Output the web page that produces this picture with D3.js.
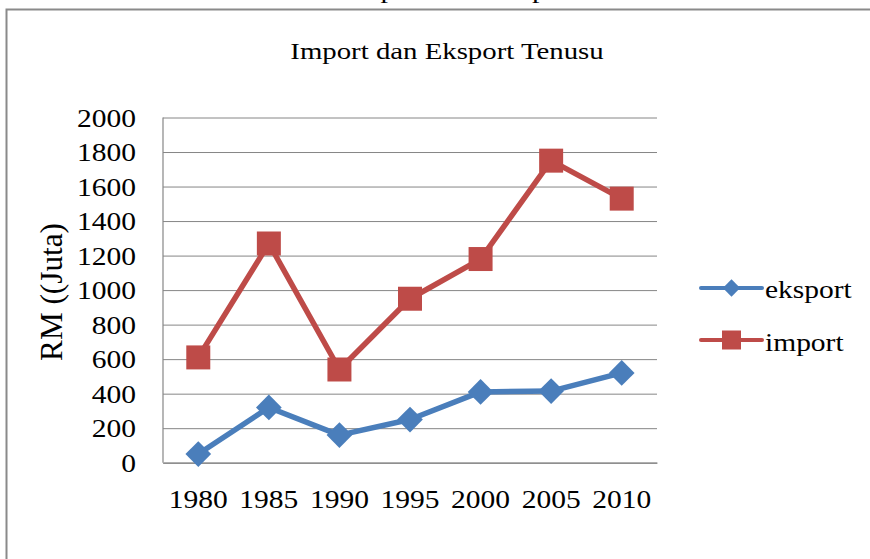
<!DOCTYPE html>
<html>
<head>
<meta charset="utf-8">
<script src="https://cdn.jsdelivr.net/npm/d3@7"></script>
<style>
  html, body { margin: 0; padding: 0; background: #fff; }
  svg { display: block; }
  text { font-family: "Liberation Serif", "Times New Roman", serif; fill: #000; }
</style>
</head>
<body>
<svg id="chart" width="870" height="559"></svg>
<script>
const years = ["1980", "1985", "1990", "1995", "2000", "2005", "2010"];
const eksport = [50, 320, 160, 250, 410, 415, 520];
const importVals = [610, 1270, 540, 950, 1180, 1750, 1530];
const yTicks = [0, 200, 400, 600, 800, 1000, 1200, 1400, 1600, 1800, 2000];
const seriesNames = ["eksport", "import"];
const chartTitle = "Import dan Eksport Tenusu";
const captionText = "Carta 2: Graf Nilai Import dan Eksport Tenusu";
const yLabel = "RM ((Juta)";

(function () {
const SX = 1.18;
const blue = "#4A7EBB", red = "#BE4B48", grid = "#868686";

const svg = d3.select("#chart");
const pLeft = 163, pRight = 657, pTop = 117.5, pBottom = 462.7;

const x = d3.scaleBand().domain(years).range([pLeft, pRight]);
const cx = d => x(d) + x.bandwidth() / 2;
const y = d3.scaleLinear().domain([0, 2000]).range([pBottom, pTop]);

// clipped caption above frame (only its lowest part is visible, as in the source)
svg.append("text")
  .attr("transform", `translate(114,-2) scale(1.25,1)`)
  .attr("font-size", 24)
  .attr("fill", "#222")
  .text(captionText);

// frame
svg.append("rect")
  .attr("x", 6.5).attr("y", 9.5)
  .attr("width", 900).attr("height", 600)
  .attr("fill", "none").attr("stroke", "#8a8a8a").attr("stroke-width", 2);

// title
svg.append("text")
  .attr("transform", `translate(447,59) scale(${SX + 0.02},1)`)
  .attr("text-anchor", "middle")
  .attr("font-size", 24)
  .text(chartTitle);

// y axis with gridlines
const yAxis = svg.append("g")
  .attr("transform", `translate(${pLeft},0)`)
  .call(d3.axisLeft(y).tickValues(yTicks).tickSize(-(pRight - pLeft)).tickFormat(d3.format("d")));
yAxis.select(".domain").remove();
yAxis.selectAll(".tick line").attr("stroke", grid).attr("stroke-width", 1);
yAxis.selectAll(".tick text")
  .attr("x", null).attr("dy", null)
  .attr("transform", `translate(-27,8.5) scale(${SX},1)`)
  .attr("text-anchor", "end")
  .attr("font-size", 25)
  .attr("font-family", "Liberation Serif")
  .attr("fill", "#000");

// left axis line
svg.append("line")
  .attr("x1", pLeft).attr("x2", pLeft).attr("y1", pTop).attr("y2", pBottom)
  .attr("stroke", grid).attr("stroke-width", 1.2);

// x axis
const xAxis = svg.append("g")
  .attr("transform", `translate(0,${pBottom})`)
  .call(d3.axisBottom(x).tickSize(0));
xAxis.select(".domain").attr("stroke", grid).attr("stroke-width", 1.2);
xAxis.selectAll(".tick text")
  .attr("y", null).attr("dy", null)
  .attr("transform", `translate(0,45.5) scale(${SX},1)`)
  .attr("text-anchor", "middle")
  .attr("font-size", 25)
  .attr("font-family", "Liberation Serif")
  .attr("fill", "#000");

// y label
svg.append("text")
  .attr("transform", `translate(62,292) rotate(-90) scale(1.2,${SX})`)
  .attr("text-anchor", "middle")
  .attr("font-size", 26)
  .text(yLabel);

const line = d3.line().x((d, i) => cx(years[i])).y(d => y(d));

// eksport series
svg.append("path").datum(eksport)
  .attr("d", line).attr("fill", "none")
  .attr("stroke", blue).attr("stroke-width", 5.5).attr("stroke-linejoin", "round");
const diamondBig = d3.symbol(d3.symbolSquare, 330)();
svg.append("g").selectAll("path").data(eksport).join("path")
  .attr("d", diamondBig)
  .attr("transform", (d, i) => `translate(${cx(years[i])},${y(d)}) rotate(45)`)
  .attr("fill", blue);

// import series
svg.append("path").datum(importVals)
  .attr("d", line).attr("fill", "none")
  .attr("stroke", red).attr("stroke-width", 5.5).attr("stroke-linejoin", "round");
const squareBig = d3.symbol(d3.symbolSquare, 576)();
svg.append("g").selectAll("path").data(importVals).join("path")
  .attr("d", squareBig)
  .attr("transform", (d, i) => `translate(${cx(years[i])},${y(d)})`)
  .attr("fill", red);

// legend
const legendY = [288, 340];
const legendColors = [blue, red];
const legendSymbols = [d3.symbol(d3.symbolSquare, 150)(), d3.symbol(d3.symbolSquare, 361)()];
const legend = svg.append("g");
seriesNames.forEach((name, i) => {
  const g = legend.append("g").attr("transform", `translate(0,${legendY[i]})`);
  g.append("line").attr("x1", 701).attr("x2", 762).attr("y1", 0).attr("y2", 0)
    .attr("stroke", legendColors[i]).attr("stroke-width", 4).attr("stroke-linecap", "round");
  g.append("path").attr("d", legendSymbols[i])
    .attr("transform", `translate(731.5,0)${i === 0 ? " rotate(45)" : ""}`)
    .attr("fill", legendColors[i]);
  g.append("text")
    .attr("transform", `translate(765,${i === 0 ? 10 : 10.5}) scale(${SX},1)`)
    .attr("font-size", 25)
    .text(name);
});
})();
</script>
</body>
</html>
